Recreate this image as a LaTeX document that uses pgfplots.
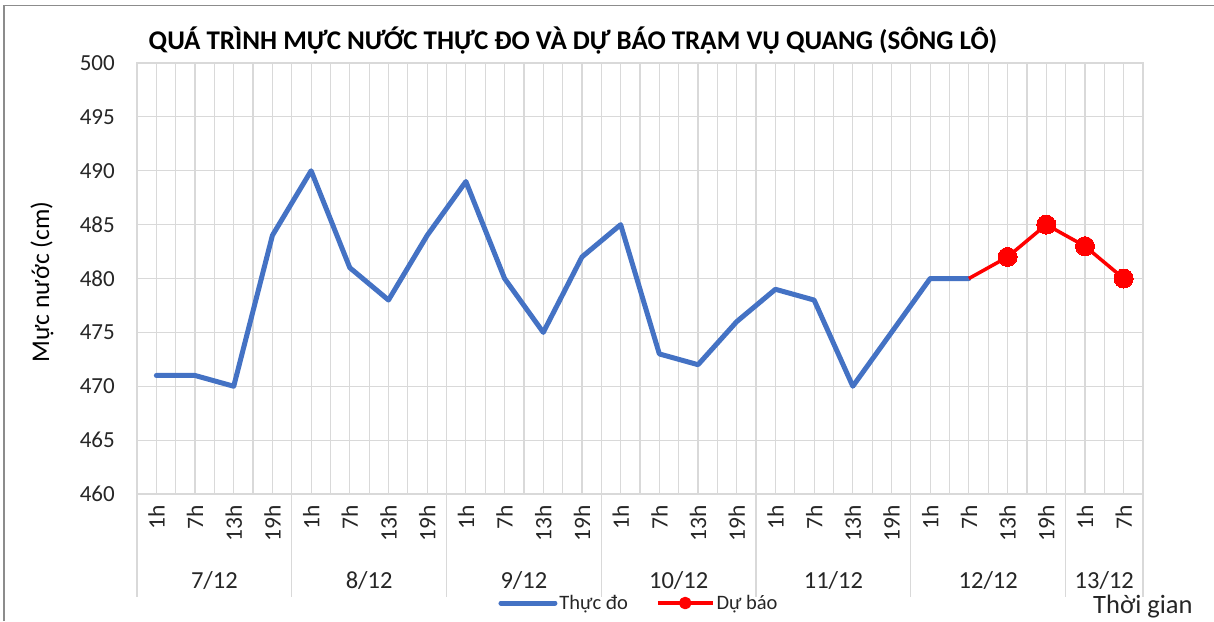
\documentclass[border=0pt]{standalone}
\usepackage{fontspec}
\setmainfont{Carlito}
\usepackage{pgfplots}
\pgfplotsset{compat=1.18}
\definecolor{blueline}{HTML}{4472C4}
\definecolor{redline}{HTML}{FF0000}
\definecolor{gridc}{HTML}{D9D9D9}
\definecolor{framec}{HTML}{8C8C8C}
\begin{document}
\begin{tikzpicture}[x=1pt,y=1pt]
\path[use as bounding box] (0,0) rectangle (1214,-621);
\draw[framec, line width=1.5pt] (4,-621) -- (4,-5.5) -- (1214,-5.5);
\begin{axis}[
  at={(137pt,-494pt)}, anchor=south west,
  scale only axis, width=1006pt, height=431pt,
  xmin=-0.5, xmax=25.5, ymin=460, ymax=500,
  xtick={0,...,25},
  xticklabels={1h,7h,13h,19h,1h,7h,13h,19h,1h,7h,13h,19h,1h,7h,13h,19h,1h,7h,13h,19h,1h,7h,13h,19h,1h,7h},
  minor xtick={-0.5,0.5,...,25.5},
  ytick={460,465,...,500},
  grid=both,
  major grid style={gridc, line width=1.2pt},
  minor grid style={gridc, line width=1.2pt},
  axis line style={gridc, line width=1.2pt},
  major tick length=0pt, minor tick length=0pt,
  tick style={draw=none},
  /pgf/number format/assume math mode=true,
  tick label style={font=\fontsize{23}{26}\selectfont, text=black!85},
  xticklabel style={rotate=90, anchor=east, inner sep=0pt, font=\fontsize{23.5}{26}\selectfont},
  xticklabel shift=11pt,
  yticklabel style={anchor=east, inner sep=0pt},
  yticklabel shift=22pt,
  clip=false,
  legend columns=2,
  legend style={at={(axis description cs:0.499,-0.253)}, anchor=center, draw=none, fill=none,
    font=\fontsize{20.5}{24}\selectfont, text=black!85,
    /tikz/every even column/.append style={column sep=26pt},
    inner sep=0pt, outer sep=0pt},
  legend cell align=left,
]
\addplot[blueline, line width=5pt, line join=round, line cap=round,
  legend image code/.code={\draw[blueline, line width=5pt, line cap=round] (0pt,0pt) -- (54pt,0pt);}]
  coordinates {
  (0,471) (1,471) (2,470) (3,484)
  (4,490) (5,481) (6,478) (7,484)
  (8,489) (9,480) (10,475) (11,482)
  (12,485) (13,473) (14,472) (15,476)
  (16,479) (17,478) (18,470) (19,475)
  (20,480) (21,480)
  };
\addlegendentry{Thực đo}
\addplot[redline, line width=3.5pt, line join=round,
  mark=*, mark size=9.5pt, mark options={fill=redline, draw=redline, line width=0pt},
  mark indices={2,3,4,5},
  legend image code/.code={\draw[redline, line width=3.5pt] (0pt,0pt) -- (55pt,0pt);
    \fill[redline] (27.5pt,0pt) circle (4.5pt);}]
  coordinates {
  (21,480) (22,482) (23,485) (24,483) (25,480)
  };
\addlegendentry{Dự báo}
% group separators
\pgfplotsinvokeforeach{-0.5,3.5,7.5,11.5,15.5,19.5,23.5,25.5}{
  \draw[gridc, line width=1.2pt] (axis cs:#1,460) -- ++(0pt,-103pt);
}
\tikzset{grp/.style={anchor=base, inner sep=0pt, font=\fontsize{24.5}{28}\selectfont, text=black!85}}
\node[grp] at ([yshift=-94pt]axis cs:1.5,460) {7/12};
\node[grp] at ([yshift=-94pt]axis cs:5.5,460) {8/12};
\node[grp] at ([yshift=-94pt]axis cs:9.5,460) {9/12};
\node[grp] at ([yshift=-94pt]axis cs:13.5,460) {10/12};
\node[grp] at ([yshift=-94pt]axis cs:17.5,460) {11/12};
\node[grp] at ([yshift=-94pt]axis cs:21.5,460) {12/12};
\node[grp] at ([yshift=-94pt]axis cs:24.5,460) {13/12};
\end{axis}
\node[anchor=base, inner sep=0pt, font=\fontsize{27}{30}\selectfont\bfseries] at (573,-49) {QUÁ TRÌNH MỰC NƯỚC THỰC ĐO VÀ DỰ BÁO TRẠM VỤ QUANG (SÔNG LÔ)};
\node[rotate=90, anchor=center, inner sep=0pt, font=\fontsize{25.5}{29}\selectfont] at (42,-282) {Mực nước (cm)};
\node[anchor=base west, inner sep=0pt, font=\fontsize{26.5}{30}\selectfont, text=black!85] at (1093,-613) {Thời gian};
\end{tikzpicture}
\end{document}
